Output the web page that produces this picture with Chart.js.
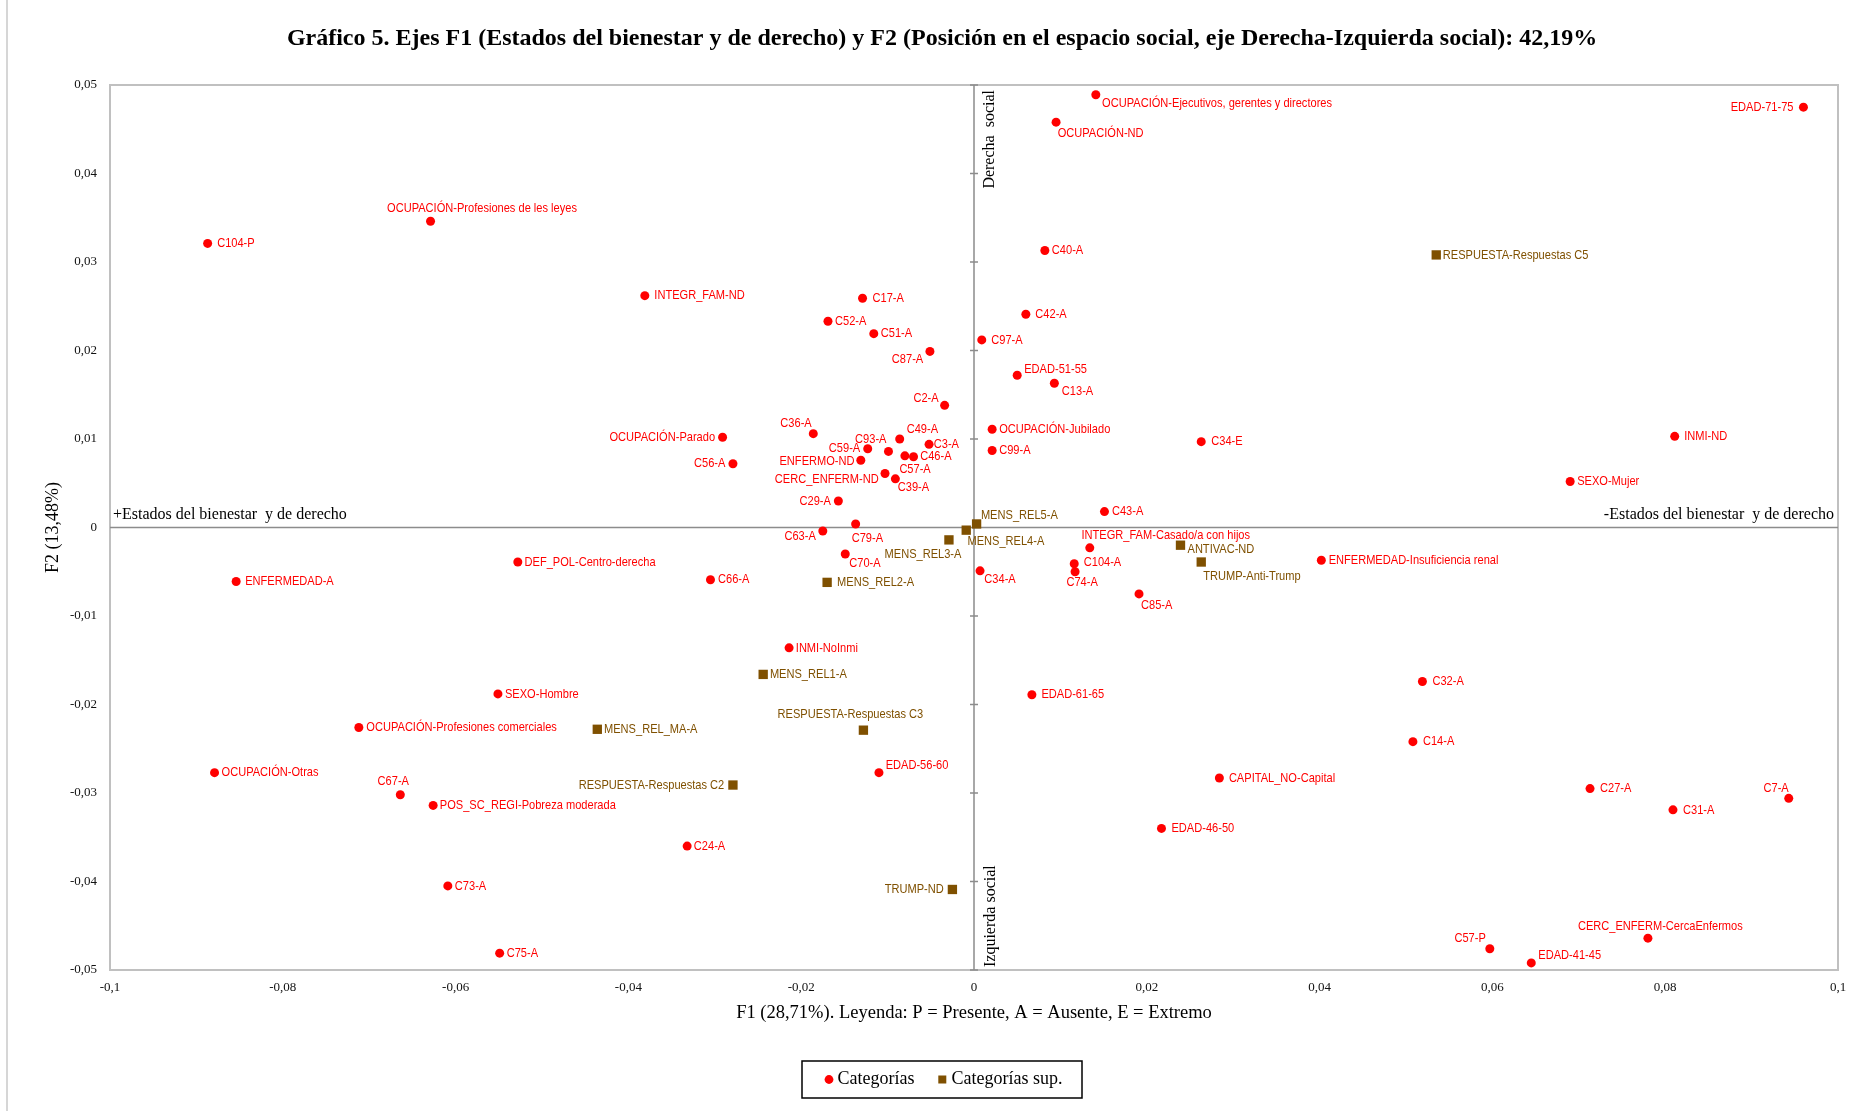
<!DOCTYPE html>
<html>
<head>
<meta charset="utf-8">
<script src="https://cdn.jsdelivr.net/npm/chart.js@4.4.1/dist/chart.umd.min.js"></script>
<style>html,body{margin:0;padding:0;background:#fff;overflow:hidden}canvas{display:block}</style>
</head>
<body>
<canvas id="c" width="1874" height="1111"></canvas>
<script>
// ---------- DATA ----------
const titleText = 'Gráfico 5. Ejes F1 (Estados del bienestar y de derecho) y F2 (Posición en el espacio social, eje Derecha-Izquierda social): 42,19%';
const xAxisTitle = 'F1 (28,71%). Leyenda: P = Presente, A = Ausente, E = Extremo';
const yAxisTitle = 'F2 (13,48%)';
const xTickLabels = ['-0,1','-0,08','-0,06','-0,04','-0,02','0','0,02','0,04','0,06','0,08','0,1'];
const yTickLabels = ['-0,05','-0,04','-0,03','-0,02','-0,01','0','0,01','0,02','0,03','0,04','0,05'];
const seriesNames = ['Categorías', 'Categorías sup.'];

const catLabels = ['C104-P','OCUPACIÓN-Profesiones de les leyes','INTEGR_FAM-ND','C17-A','C52-A','C51-A','C87-A','C2-A',
 'OCUPACIÓN-Parado','C56-A','C36-A','C93-A','C59-A','C49-A','C3-A','ENFERMO-ND','C46-A','C57-A','CERC_ENFERM-ND','C39-A',
 'C29-A','C63-A','C79-A','C70-A','C66-A','DEF_POL-Centro-derecha','ENFERMEDAD-A','INMI-NoInmi','SEXO-Hombre',
 'OCUPACIÓN-Profesiones comerciales','OCUPACIÓN-Otras','C67-A','POS_SC_REGI-Pobreza moderada','EDAD-56-60','C24-A','C73-A','C75-A',
 'OCUPACIÓN-Ejecutivos, gerentes y directores','OCUPACIÓN-ND','C40-A','C42-A','C97-A','EDAD-51-55','C13-A','OCUPACIÓN-Jubilado',
 'C99-A','C34-E','C43-A','INTEGR_FAM-Casado/a con hijos','C104-A','C74-A','C34-A','C85-A','EDAD-61-65','CAPITAL_NO-Capital',
 'EDAD-46-50','ENFERMEDAD-Insuficiencia renal','C32-A','C14-A','C27-A','C31-A','C7-A','CERC_ENFERM-CercaEnfermos','C57-P',
 'EDAD-41-45','EDAD-71-75','INMI-ND','SEXO-Mujer'];
const catX = [-0.0887,-0.0629,-0.0381,-0.0129,-0.0169,-0.0116,-0.0051,-0.0034,
 -0.0291,-0.0279,-0.0186,-0.0099,-0.0123,-0.0086,-0.0052,-0.0131,-0.0070,-0.0080,-0.0103,-0.0091,
 -0.0157,-0.0175,-0.0137,-0.0149,-0.0305,-0.0528,-0.0854,-0.0214,-0.0551,
 -0.0712,-0.0879,-0.0664,-0.0626,-0.0110,-0.0332,-0.0609,-0.0549,
 0.0141,0.0095,0.0082,0.0060,0.0009,0.0050,0.0093,0.0021,
 0.0021,0.0263,0.0151,0.0134,0.0116,0.0117,0.0007,0.0191,0.0067,0.0284,
 0.0217,0.0402,0.0519,0.0508,0.0713,0.0809,0.0943,0.0780,0.0597,
 0.0645,0.0960,0.0811,0.0690];
const catY = [0.0321,0.0346,0.0262,0.0259,0.0233,0.0219,0.0199,0.0138,
 0.0102,0.0072,0.0106,0.0086,0.0089,0.0100,0.0094,0.0076,0.0080,0.0081,0.0061,0.0055,
 0.0030,-0.0004,0.0004,-0.0030,-0.0059,-0.0039,-0.0061,-0.0136,-0.0188,
 -0.0226,-0.0277,-0.0302,-0.0314,-0.0277,-0.0360,-0.0405,-0.0481,
 0.0489,0.0458,0.0313,0.0241,0.0212,0.0172,0.0163,0.0111,
 0.0087,0.0097,0.0018,-0.0023,-0.0041,-0.0050,-0.0049,-0.0075,-0.0189,-0.0283,
 -0.0340,-0.0037,-0.0174,-0.0242,-0.0295,-0.0319,-0.0306,-0.0464,-0.0476,
 -0.0492,0.0475,0.0103,0.0052];

const supLabels = ['RESPUESTA-Respuestas C5','MENS_REL5-A','MENS_REL4-A','MENS_REL3-A','MENS_REL2-A','ANTIVAC-ND',
 'TRUMP-Anti-Trump','MENS_REL1-A','MENS_REL_MA-A','RESPUESTA-Respuestas C3','RESPUESTA-Respuestas C2','TRUMP-ND'];
const supX = [0.0535,0.0003,-0.0009,-0.0029,-0.0170,0.0239,0.0263,-0.0244,-0.0436,-0.0128,-0.0279,-0.0025];
const supY = [0.0308,0.0004,-0.0003,-0.0014,-0.0062,-0.0020,-0.0039,-0.0166,-0.0228,-0.0229,-0.0291,-0.0409];

// label placement (offset from the mark in px, and text anchor side)
const catLabelPos = [[9.5,0,'l'],[-43.5,-12.7,'l'],[9.5,0,'l'],[10,0,'l'],[7,0,'l'],[7,0,'l'],[-6.7,8,'r'],[-6,-7.3,'r'],
 [-7.5,0,'r'],[-7.5,0,'r'],[-1.6,-10,'r'],[-2,-12.3,'r'],[-7.5,0,'r'],[7,-9.7,'l'],[4.7,0,'l'],[-6.3,0.7,'r'],[6.7,0,'l'],[-5.5,13.7,'l'],[-6.3,5.3,'r'],[2.4,8.3,'l'],
 [-7.5,0,'r'],[-7,5.3,'r'],[-4,14,'l'],[4,9,'l'],[7.5,0,'l'],[6.7,0,'l'],[9,0,'l'],[6.7,0,'l'],[7,0,'l'],
 [7.5,0,'l'],[7,0,'l'],[-7,-13.3,'c'],[6.7,0,'l'],[6.7,-7.3,'l'],[6.7,0,'l'],[7,0,'l'],[7,0,'l'],
 [6.3,8.7,'l'],[1.6,11,'l'],[7,0,'l'],[9.5,0,'l'],[9.5,0,'l'],[7,-6.3,'l'],[7.5,8.3,'l'],[7,0,'l'],
 [7,0,'l'],[10,0,'l'],[7.5,0,'l'],[-8.3,-12.3,'l'],[9.5,-1.7,'l'],[-8.7,10.3,'l'],[4.3,8.3,'l'],[2,11.3,'l'],[9.5,0,'l'],[9.5,0,'l'],
 [10,0,'l'],[7.3,0,'l'],[10,0,'l'],[10,0,'l'],[10,0,'l'],[10,0,'l'],[0,-10,'r'],[-70,-12.3,'l'],[-4,-10,'r'],
 [7,-7.3,'l'],[-10,0,'r'],[9.5,0,'l'],[7,0,'l']];
const supLabelPos = [[6.6,0,'l'],[4.3,-8.7,'l'],[1.2,11.3,'l'],[-64.4,14,'l'],[10,0,'l'],[7,3.7,'l'],
 [2,14,'l'],[6.7,0,'l'],[6.7,0,'l'],[-85.8,-15.7,'l'],[-8.7,0,'r'],[-8.7,0,'r']];

// ---------- STYLE ----------
const RED = '#FF0000';
const BROWN = '#7F5000';
const SERIF = '"Liberation Serif", "Times New Roman", serif';

function hasFont(name){
  const c = document.createElement('canvas').getContext('2d');
  const s = 'abcdefghijklmnopqrstuvwxyzABCDEFGHIJKLMNOPQRSTUVWXYZ0123456789';
  c.font = '40px monospace'; const w1 = c.measureText(s).width;
  c.font = '40px "' + name + '", monospace'; const w2 = c.measureText(s).width;
  return Math.abs(w1 - w2) > 1;
}
const NARROW = hasFont('Liberation Sans Narrow');

function drawNarrow(ctx, text, x, y, align, color){
  ctx.save();
  ctx.fillStyle = color;
  ctx.textBaseline = 'middle';
  ctx.textAlign = align === 'l' ? 'left' : (align === 'r' ? 'right' : 'center');
  if (NARROW) {
    ctx.font = '13.5px "Liberation Sans Narrow"';
    ctx.fillText(text, x, y);
  } else {
    ctx.font = '13.5px "Liberation Sans", Arial, sans-serif';
    ctx.translate(x, y);
    ctx.scale(0.82, 1);
    ctx.fillText(text, 0, 0);
  }
  ctx.restore();
}

const framePlugin = {
  id: 'frame',
  beforeDatasetsDraw(chart){
    const {ctx, chartArea: a, scales} = chart;
    const x0 = scales.x.getPixelForValue(0);
    const y0 = scales.y.getPixelForValue(0);
    ctx.save();
    // plot frame
    ctx.strokeStyle = '#C0C0C0';
    ctx.lineWidth = 2;
    ctx.strokeRect(a.left, a.top, a.right - a.left, a.bottom - a.top);
    // zero axes
    ctx.strokeStyle = '#8C8C8C';
    ctx.lineWidth = 1.5;
    ctx.beginPath();
    ctx.moveTo(a.left, y0); ctx.lineTo(a.right, y0);
    ctx.moveTo(x0, a.top); ctx.lineTo(x0, a.bottom);
    scales.y.ticks.forEach(t => {
      const py = scales.y.getPixelForValue(t.value);
      ctx.moveTo(x0 - 4, py); ctx.lineTo(x0 + 4, py);
    });
    ctx.stroke();
    // quadrant texts
    ctx.fillStyle = '#000';
    ctx.font = '16px ' + SERIF;
    ctx.textBaseline = 'middle';
    ctx.textAlign = 'left';
    ctx.fillText('+Estados del bienestar  y de derecho', a.left + 3, y0 - 13);
    ctx.textAlign = 'right';
    ctx.fillText('-Estados del bienestar  y de derecho', a.right - 4, y0 - 13);
    ctx.save();
    ctx.translate(x0 + 16, a.top + 5);
    ctx.rotate(-Math.PI / 2);
    ctx.textAlign = 'right';
    ctx.fillText('Derecha  social', 0, 0);
    ctx.restore();
    ctx.save();
    ctx.translate(x0 + 17, a.bottom - 3);
    ctx.rotate(-Math.PI / 2);
    ctx.textAlign = 'left';
    ctx.fillText('Izquierda social', 0, 0);
    ctx.restore();
    ctx.restore();
  },
  afterDatasetsDraw(chart){
    const ctx = chart.ctx;
    const sets = [[catLabels, catLabelPos, RED], [supLabels, supLabelPos, BROWN]];
    sets.forEach((s, di) => {
      const meta = chart.getDatasetMeta(di);
      meta.data.forEach((pt, j) => {
        const p = s[1][j];
        drawNarrow(ctx, s[0][j], pt.x + p[0], pt.y + p[1], p[2], s[2]);
      });
    });
  },
  afterDraw(chart){
    const {ctx, chartArea: a} = chart;
    ctx.save();
    // outer chart border
    ctx.strokeStyle = '#C8C8C8';
    ctx.lineWidth = 1.5;
    ctx.beginPath();
    ctx.moveTo(7, 0); ctx.lineTo(7, 1111);
    ctx.stroke();
    // title
    ctx.fillStyle = '#000';
    ctx.textBaseline = 'middle';
    ctx.textAlign = 'center';
    ctx.font = 'bold 24px ' + SERIF;
    ctx.fillText(titleText, 942, 39);
    // axis titles
    ctx.font = '18.5px ' + SERIF;
    ctx.fillText(xAxisTitle, (a.left + a.right) / 2, 1013);
    ctx.save();
    ctx.font = '18px ' + SERIF;
    ctx.translate(53, (a.top + a.bottom) / 2);
    ctx.rotate(-Math.PI / 2);
    ctx.fillText(yAxisTitle, 0, 0);
    ctx.restore();
    // legend
    const lx = 802, ly = 1061, lw = 280, lh = 37, cy = ly + lh / 2;
    ctx.strokeStyle = '#000';
    ctx.lineWidth = 1.5;
    ctx.strokeRect(lx, ly, lw, lh);
    ctx.fillStyle = RED;
    ctx.beginPath(); ctx.arc(829, cy, 4.4, 0, Math.PI * 2); ctx.fill();
    ctx.fillStyle = BROWN;
    ctx.fillRect(942.3 - 4, cy - 4, 8, 8);
    ctx.fillStyle = '#000';
    ctx.font = '18px ' + SERIF;
    ctx.textAlign = 'left';
    ctx.fillText(seriesNames[0], 837.5, cy);
    ctx.fillText(seriesNames[1], 951.5, cy);
    ctx.restore();
  }
};

const toPts = (xs, ys) => xs.map((x, i) => ({x: x, y: ys[i]}));

new Chart(document.getElementById('c'), {
  type: 'scatter',
  data: {
    datasets: [
      {label: seriesNames[0], data: toPts(catX, catY), pointStyle: 'circle', pointRadius: 4.5,
       backgroundColor: RED, borderColor: RED, pointBorderWidth: 0},
      {label: seriesNames[1], data: toPts(supX, supY), pointStyle: 'rect', pointRadius: 6.6,
       backgroundColor: BROWN, borderColor: BROWN, pointBorderWidth: 0}
    ]
  },
  options: {
    responsive: false,
    animation: false,
    events: [],
    layout: {padding: {left: 30, top: 85, right: 36, bottom: 101}},
    plugins: {legend: {display: false}, tooltip: {enabled: false}, title: {display: false}},
    scales: {
      x: {
        type: 'linear', position: 'bottom', min: -0.1, max: 0.1,
        grid: {display: false, drawTicks: false},
        border: {display: false},
        ticks: {stepSize: 0.02, padding: 10, color: '#111', font: {family: SERIF, size: 13},
                maxRotation: 0, autoSkip: false,
                callback: (v, i) => xTickLabels[i]},
        afterFit: s => { s.height = 40; }
      },
      y: {
        type: 'linear', position: 'left', min: -0.05, max: 0.05,
        grid: {display: false, drawTicks: false},
        border: {display: false},
        ticks: {stepSize: 0.01, padding: 13, color: '#111', font: {family: SERIF, size: 13},
                autoSkip: false,
                callback: (v, i) => yTickLabels[i]},
        afterFit: s => { s.width = 80; }
      }
    }
  },
  plugins: [framePlugin]
});
</script>
</body>
</html>
